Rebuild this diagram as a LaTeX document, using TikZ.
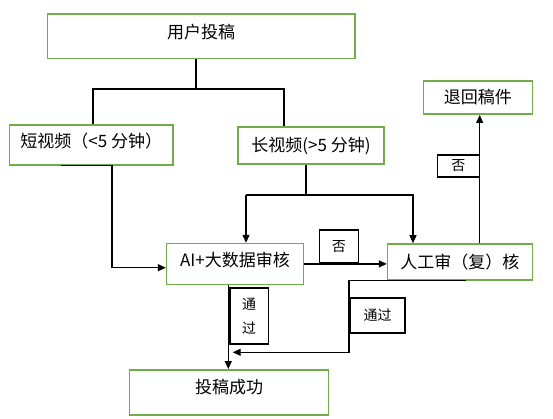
\documentclass[tikz,border=0pt]{standalone}
\usepackage{fontspec}
\newfontfamily\cjk{Noto Sans CJK SC}
\usetikzlibrary{arrows.meta}
\definecolor{boxgreen}{HTML}{70AD47}
\tikzset{
  gbox/.style={draw=boxgreen, line width=1.5pt, rectangle, inner sep=0pt,
    font=\cjk\fontsize{17}{20}\selectfont, text height=13pt, text depth=1pt},
  up/.style={text depth=#1},
  lbox/.style={draw=black, line width=1.5pt, rectangle, inner sep=0pt,
    font=\cjk\fontsize{14}{24}\selectfont},
  conn/.style={draw=black, line width=1.2pt},
  arr/.style={conn, -{Triangle[length=8pt,width=7pt]}},
}
\begin{document}
\begin{tikzpicture}[x=1pt,y=-1pt]
\useasboundingbox[fill=white] (0,0) rectangle (553,419);
% boxes
\node[gbox, up=9pt, minimum width=307.5pt, minimum height=44.5pt] (top) at (201.2,36.2) {用户投稿};
\node[gbox, up=7pt, minimum width=163.5pt, minimum height=40pt] (short) at (91.25,145) {短视频（<5 分钟）};
\node[gbox, minimum width=146.4pt, minimum height=37.2pt] (long) at (311,145.4) {长视频(>5 分钟)};
\node[gbox, minimum width=108.7pt, minimum height=33.4pt] (ret) at (477.9,97.5) {退回稿件};
\node[gbox, up=7pt, minimum width=136.7pt, minimum height=40.7pt] (ai) at (234.9,263.9) {AI+大数据审核};
\node[gbox, minimum width=144.7pt, minimum height=36pt] (hum) at (459.9,262) {人工审（复）核};
\node[gbox, up=11pt, minimum width=199pt, minimum height=45.4pt] (suc) at (229,392.5) {投稿成功};
% junctions
\coordinate (j1) at (196,89);
\coordinate (jL) at (93,89);
\coordinate (jR) at (284,89);
\coordinate (jm) at (306,195);
\coordinate (ja) at (246,195);
\coordinate (jh) at (413,195);
\coordinate (s1) at (61,165);
\coordinate (s2) at (112,165);
\coordinate (s3) at (112,267.7);
\coordinate (rx) at (479.7,0);
\coordinate (cx) at (228.3,0);
\coordinate (h1) at (465.7,0);
\coordinate (h2) at (349,352.3);
\coordinate (h3) at (232.7,352.3);
% connectors
\draw[conn] (top.south -| j1) -- (j1);
\draw[conn] (jL |- short.north) -- (jL) -- (jR) -- (jR |- long.north);
\draw[conn] (long.south -| jm) -- (jm);
\draw[arr] (ja) -- (ja |- ai.north);
\draw[arr] (ja) -- (jh) -- (jh |- hum.north);
\draw[arr] (s1 |- short.south) -- (s2 |- short.south) -- (s3) -- (s3 -| ai.west);
\draw[arr] (ai.east) -- (ai.east -| hum.west);
\draw[arr] (hum.north -| rx) -- (ret.south -| rx);
\draw[arr] (ai.south -| cx) -- (suc.north -| cx);
\draw[arr] (hum.south -| h1) -- (hum.south -| h2) -- (h2) -- (h3);
% labels
\node[lbox, minimum width=41.8pt, minimum height=22pt] (l1) at (458.4,166) {否};
\node[lbox, minimum width=38.8pt, minimum height=33pt] (l2) at (338.9,246.5) {否};
\node[lbox, minimum width=38.5pt, minimum height=56pt, align=center] (l3) at (249.2,316) {通\\过};
\node[lbox, minimum width=55pt, minimum height=35pt] (l4) at (377.5,315.5) {通过};
\end{tikzpicture}
\end{document}
